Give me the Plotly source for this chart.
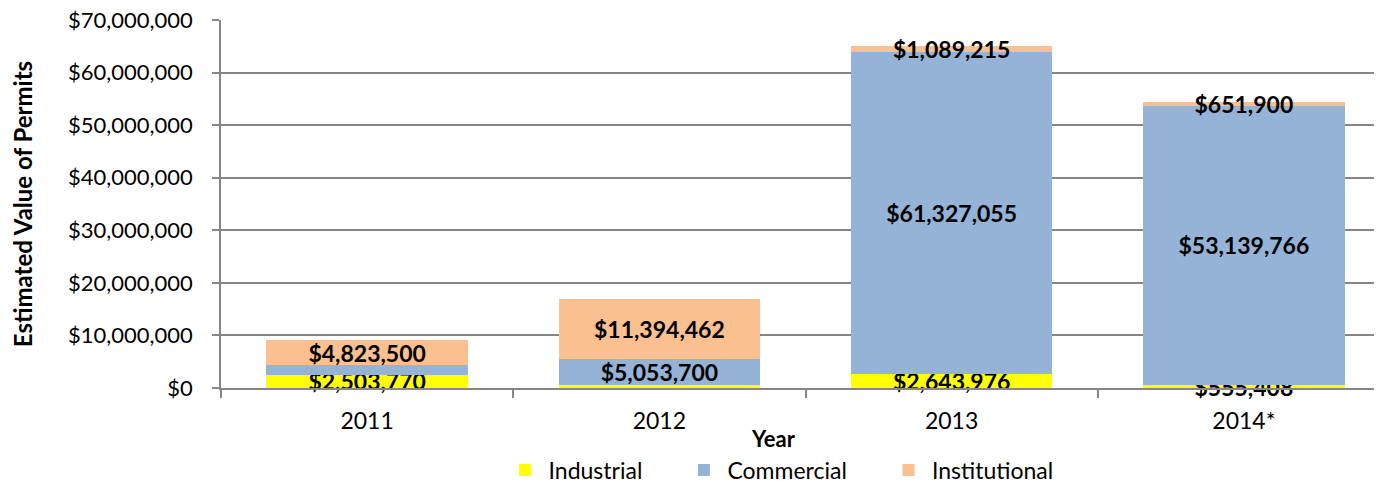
import plotly.graph_objects as go

years = ["2011", "2012", "2013", "2014*"]
industrial = [2503770, 500000, 2643976, 555408]
commercial = [1800000, 5053700, 61327055, 53139766]
institutional = [4823500, 11394462, 1089215, 651900]
show_industrial = [True, False, True, True]
show_commercial = [False, True, True, True]
show_institutional = [True, True, True, True]

y_ticks = [0, 10000000, 20000000, 30000000, 40000000, 50000000, 60000000, 70000000]
y_tick_text = ["$0", "$10,000,000", "$20,000,000", "$30,000,000", "$40,000,000",
               "$50,000,000", "$60,000,000", "$70,000,000"]


def labels(vals, show):
    return [f"${v:,}" if s else "" for v, s in zip(vals, show)]


series = [
    ("Industrial", industrial, show_industrial, "#FFFF00", "legend", 0.240),
    ("Commercial", commercial, show_commercial, "#95B3D7", "legend2", 0.393),
    ("Institutional", institutional, show_institutional, "#FAC090", "legend3", 0.568),
]

FONT = "Lato"

fig = go.Figure()
legend_layout = {}
for name, vals, show, color, leg, lx in series:
    fig.add_trace(go.Bar(
        x=years, y=vals, name=name, legend=leg,
        marker=dict(color=color, line=dict(width=0)),
        text=labels(vals, show),
        textposition="inside",
        insidetextanchor="middle",
        constraintext="none",
        textangle=0,
        cliponaxis=False,
        textfont=dict(family=FONT, size=23, color="black", weight="bold"),
        hoverinfo="skip",
    ))
    legend_layout[leg] = dict(orientation="h", x=lx, xanchor="left", y=-0.223, yanchor="middle",
                              font=dict(family=FONT, size=23, color="black"),
                              itemwidth=37, bgcolor="rgba(0,0,0,0)")

fig.update_layout(
    barmode="stack",
    bargap=0.31,
    width=1382, height=481,
    margin=dict(l=213, r=0, t=12, b=101, autoexpand=False),
    paper_bgcolor="white", plot_bgcolor="white",
    font=dict(family=FONT, size=22, color="black"),
    showlegend=True,
    annotations=[dict(text="Year", xref="paper", yref="paper", x=0.473, y=-0.136,
                      xanchor="center", yanchor="middle", showarrow=False,
                      font=dict(family=FONT, size=22, color="black", weight="bold"))],
    **legend_layout,
)
fig.update_xaxes(
    showline=True, linecolor="#868686", linewidth=1.5,
    ticks="outside", tickson="boundaries", ticklen=8, tickcolor="#868686", tickwidth=1.5,
    tickfont=dict(family=FONT, size=23, color="black"),
    ticklabelstandoff=12,
    showgrid=False, automargin=False,
)
fig.update_yaxes(
    range=[0, 70000000],
    tickvals=y_ticks, ticktext=y_tick_text,
    showline=True, linecolor="#868686", linewidth=1.5,
    ticks="outside", ticklen=7, tickcolor="#868686", tickwidth=1.5,
    ticklabelstandoff=15, ticklabeloverflow="allow",
    showgrid=True, gridcolor="#868686", gridwidth=1.5,
    tickfont=dict(family=FONT, size=22, color="black"),
    title=dict(text="Estimated Value of Permits", font=dict(family=FONT, size=24, color="black", weight="bold"), standoff=29),
    zeroline=False, automargin=False,
)

fig.write_html("out.html")
